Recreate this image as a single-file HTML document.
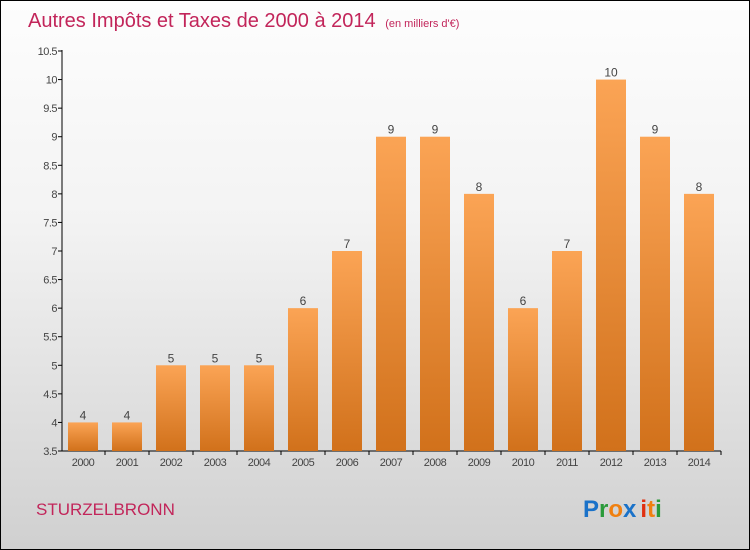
<!DOCTYPE html>
<html><head><meta charset="utf-8"><style>
body{margin:0}
#c{width:748px;height:548px;border:1px solid #000;position:relative;overflow:hidden;background:linear-gradient(#fdfdfd,#f3f3f3 40%,#d0d0d0);font-family:"Liberation Sans",sans-serif}
</style></head><body>
<div id="c">
<svg id="s" width="748" height="548" style="position:absolute;left:0;top:0">
<defs><linearGradient id="g" x1="0" y1="0" x2="0" y2="1"><stop offset="0" stop-color="#fba455"/><stop offset="1" stop-color="#d1711b"/></linearGradient></defs>
<text x="27" y="26" font-size="20" fill="#c2255a">Autres Impôts et Taxes de 2000 à 2014 <tspan font-size="11" dx="4">(en milliers d'€)</tspan></text>
<text x="35" y="514" font-size="17" fill="#c2255a">STURZELBRONN</text>
<text x="582" y="516" font-size="24" font-weight="bold"><tspan fill="#1a72c9">P</tspan><tspan fill="#2a9a3a">r</tspan><tspan fill="#f08010">o</tspan><tspan fill="#1a72c9">x</tspan><tspan fill="#e03010" dx="4">i</tspan><tspan fill="#f08010">t</tspan><tspan fill="#2a9a3a">i</tspan></text>
<g id="ax"></g><g id="bars"></g>
</svg></div>
<script>
const years=["2000","2001","2002","2003","2004","2005","2006","2007","2008","2009","2010","2011","2012","2013","2014"];
const values=[4,4,5,5,5,6,7,9,9,8,6,7,10,9,8];
const ticks=[3.5,4,4.5,5,5.5,6,6.5,7,7.5,8,8.5,9,9.5,10,10.5];
const NS="http://www.w3.org/2000/svg";
const y=v=>450-(v-3.5)*(400/7);
const x=i=>82+i*44;
function el(t,a,p,txt){const e=document.createElementNS(NS,t);for(const k in a)e.setAttribute(k,a[k]);if(txt!==undefined)e.textContent=txt;p.appendChild(e);return e;}
const ax=document.getElementById('ax'),bg=document.getElementById('bars');
let l=el('line',{x1:61,y1:49,x2:61,y2:450,stroke:'#000'},ax);


l=el('line',{x1:61,y1:450,x2:720,y2:450,stroke:'#000'},ax);


ticks.forEach(t=>{
 el('line',{x1:57,x2:61,y1:y(t),y2:y(t),stroke:'#000'},ax);
 const tx=el('text',{x:56,y:y(t)+4,'font-size':11,'text-anchor':'end',fill:'#444','letter-spacing':'-0.5'},ax,String(t));
 
 
});
years.forEach((yr,i)=>{
 el('line',{x1:x(i)+22,x2:x(i)+22,y1:450,y2:454,stroke:'#000'},ax);
 const tx=el('text',{x:x(i),y:465,'font-size':11,'text-anchor':'middle',fill:'#444','letter-spacing':'-0.5'},ax,yr);
 
 
 const r=el('rect',{x:x(i)-15,y:y(values[i]),width:30,height:450-y(values[i]),fill:'url(#g)'},bg);
 
 
 const vl=el('text',{x:x(i),y:y(values[i])-3,'font-size':12,'text-anchor':'middle',fill:'#444'},bg,String(values[i]));
 
 
});
</script>
</body></html>
